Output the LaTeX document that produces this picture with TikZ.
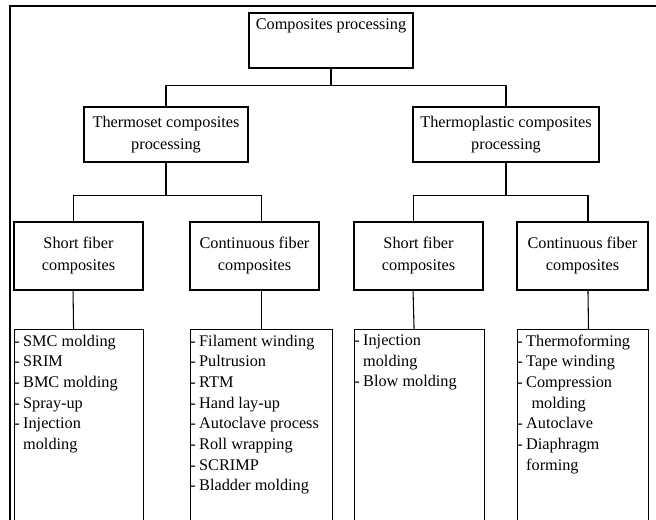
\documentclass[tikz,border=0pt]{standalone}
\usepackage{fontspec}
\setmainfont{Liberation Serif}
\newcommand{\dashitem}{\leavevmode\llap{-\hspace{2.5pt}}}
\newcommand{\methodlist}[2]{\parbox[t][150pt][t]{#1}{\raggedright #2}}

\begin{document}
\begin{tikzpicture}[
    x=0.75pt, y=-0.75pt,
    every node/.append style={font=\fontsize{12.2}{16.5}\selectfont},
    rootbox/.style={rectangle, draw=black, line width=0.8pt, inner sep=0pt, minimum width=123pt, text height=12.75pt, text depth=28.5pt},
    groupbox/.style={rectangle, draw=black, line width=0.8pt, align=center, minimum width=#1, minimum height=41.25pt},
    fiberbox/.style={rectangle, draw=black, line width=0.8pt, align=center, minimum width=#1, minimum height=51pt},
    listbox/.style={rectangle, draw=black, line width=0.8pt, anchor=north west, inner xsep=6.5pt, inner ysep=4pt, font=\fontsize{12.2}{15.5}\selectfont},
    link/.style={draw=black, line width=0.8pt}
]
    \useasboundingbox (0,0) rectangle (656,520);
    \clip (0,0) rectangle (656,520);

    % Marco
    \draw[line width=1pt] (10,540) -- (10,6) -- (680,6);

    % Raiz y procesos
    \node[rootbox] (comp) at (331,40.5) {Composites processing};
    \node[groupbox=123pt] (tset) at (166,134.5) {Thermoset composites\\processing};
    \node[groupbox=139.5pt] (tplast) at (506,134.5) {Thermoplastic composites\\processing};

    % Tipos de fibra
    \node[fiberbox=96.75pt] (tsShort) at (78.5,256) {Short fiber\\composites};
    \node[fiberbox=96.75pt] (tsCont) at (254.5,256) {Continuous fiber\\composites};
    \node[fiberbox=96.75pt] (tpShort) at (418.5,256) {Short fiber\\composites};
    \node[fiberbox=98.25pt] (tpCont) at (582.5,256) {Continuous fiber\\composites};

    % Metodos
    \node[listbox] (tsShortL) at (14,329) {\methodlist{83.75pt}{\dashitem SMC molding\\ \dashitem SRIM\\ \dashitem BMC molding\\ \dashitem Spray-up\\ \dashitem Injection\\ molding}};
    \node[listbox] (tsContL) at (190,329) {\methodlist{93.5pt}{\dashitem Filament winding\\ \dashitem Pultrusion\\ \dashitem RTM\\ \dashitem Hand lay-up\\ \dashitem Autoclave process\\ \dashitem Roll wrapping\\ \dashitem SCRIMP\\ \dashitem Bladder molding}};
    \node[listbox] (tpShortL) at (354,329) {\methodlist{84.5pt}{\dashitem Injection\\ molding\\ \dashitem Blow molding}};
    \node[listbox] (tpContL) at (517,329) {\methodlist{85.25pt}{\dashitem Thermoforming\\ \dashitem Tape winding\\ \dashitem Compression\\ \hspace*{4pt}molding\\ \dashitem Autoclave\\ \dashitem Diaphragm\\ forming}};

    % Conexiones
    \draw[link] (comp.south) -- ++(0,17) -| (tset.north);
    \draw[link] (comp.south) ++(0,17) -| (tplast.north);
    \draw[link] (tset.south) -- ++(0,33) -| ([xshift=-4.1pt]tsShort.north);
    \draw[link] (tset.south) ++(0,33) -| ([xshift=4.9pt]tsCont.north);
    \draw[link] (tplast.south) -- ++(0,33) -| ([xshift=-4.1pt]tpShort.north);
    \draw[link] (tplast.south) ++(0,33) -| ([xshift=4.1pt]tpCont.north);
    \draw[link] ([xshift=-4.1pt]tsShort.south) -- ([xshift=-4.1pt]tsShortL.north);
    \draw[link] (tsContL.north |- tsCont.south) -- (tsContL.north);
    \draw[link] ([xshift=-4.1pt]tpShort.south) -- ([xshift=-4.1pt]tpShortL.north);
    \draw[link] ([xshift=4.1pt]tpCont.south) -- ([xshift=4.1pt]tpContL.north);

\end{tikzpicture}
\end{document}
